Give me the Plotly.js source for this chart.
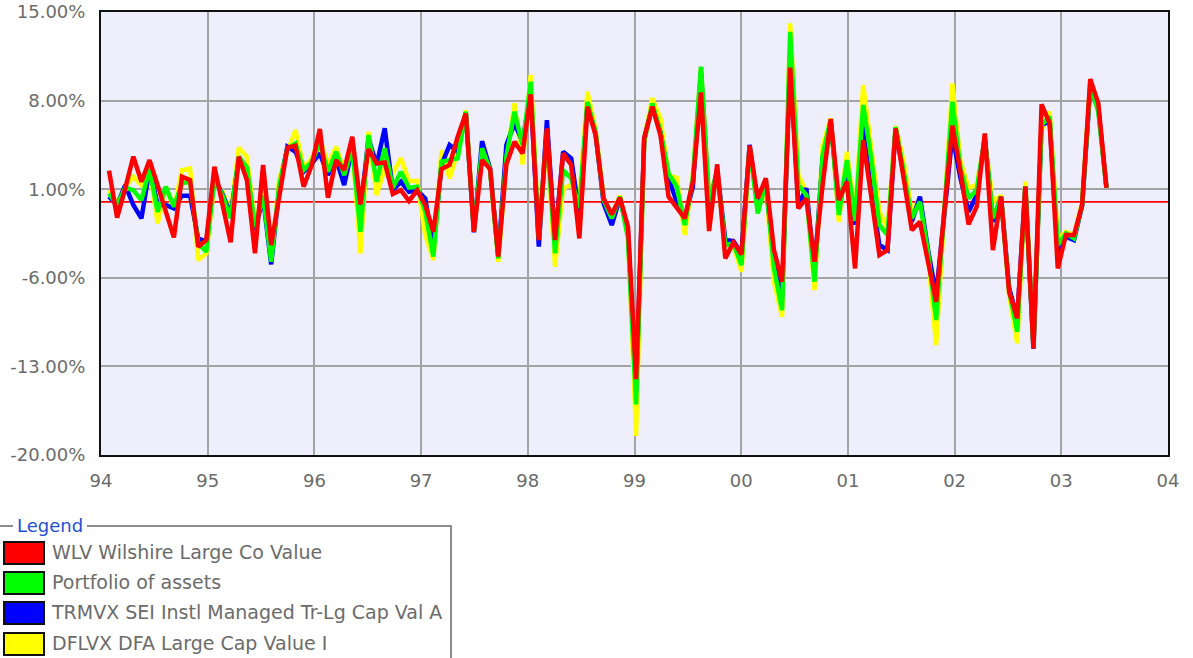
<!DOCTYPE html>
<html>
<head>
<meta charset="utf-8">
<script src="https://cdn.plot.ly/plotly-3.0.1.min.js"></script>
<style>
  html, body { margin:0; padding:0; background:#fff; }
  #wrap { position:relative; width:1193px; height:658px; overflow:hidden; }
  #chart { position:absolute; left:0; top:0; width:1193px; height:658px; }
  #legendBox { position:absolute; left:0; top:515px; width:452px; height:170px; margin:0; padding:0;
    border:2px solid #8c8c8c; border-left:none; box-sizing:border-box; font-family:"DejaVu Sans", Verdana, sans-serif; }
  #legendBox legend { color:#1d4fd6; font-size:18px; padding:0 4px; margin-left:13px; }
  .item { position:absolute; left:3px; height:24px; }
  .sw { position:absolute; left:0; top:0; width:38px; height:20px; border:2px solid #111; }
  .lbl { position:absolute; left:49px; top:0px; white-space:nowrap; color:#6b6b6b; font-size:19px; }
</style>
</head>
<body>
<div id="wrap">
  <div id="chart"></div>
  <fieldset id="legendBox"><legend>Legend</legend></fieldset>
</div>
<script>
// ---- data (monthly returns, %) ----
const startYear = 94.075;
const stepYears = 0.076;

const seriesNames = [
  "WLV Wilshire Large Co Value",
  "Portfolio of assets",
  "TRMVX SEI Instl Managed Tr-Lg Cap Val A",
  "DFLVX DFA Large Cap Value I"
];
const seriesColors = ["#ff0000", "#00ff00", "#0000ff", "#ffff00"];

const wlv = [
  2.46,-1.25,1.07,3.57,1.59,3.30,1.30,-0.70,-2.81,1.99,1.72,-3.54,-3.02,2.78,-0.25,-3.20,
  3.57,1.72,-4.07,2.91,-3.41,0.41,4.28,4.44,1.20,2.91,5.75,0.33,3.30,2.51,5.15,-0.20,
  4.17,3.04,3.12,0.62,0.93,0.07,0.91,-0.25,-2.36,2.59,2.91,5.15,6.99,-2.36,3.30,2.59,
  -4.33,2.96,4.75,3.83,8.49,-3.02,5.81,-3.02,3.83,2.91,-2.89,7.52,5.28,0.27,-0.99,0.33,
  -1.96,-14.0,5.02,7.52,5.28,0.41,-0.52,-1.30,1.59,8.65,-2.31,2.96,-4.47,-3.20,-4.15,4.44,
  0.27,1.86,-3.81,-6.31,10.60,-0.52,0.27,-4.73,1.33,6.54,0.14,1.59,-5.26,4.88,0.41,-4.20,
  -3.81,5.81,1.86,-2.23,-1.57,-4.73,-7.89,-0.78,6.02,2.38,-1.78,-0.38,5.41,-3.81,0.41,-7.10,
  -9.21,1.20,-11.58,7.70,6.20,-5.26,-2.62,-2.62,-0.25,9.70,7.78,1.12
];
const portfolio = [
  0.67,-0.25,1.12,0.93,0.14,2.59,-0.78,1.20,-0.38,1.46,1.59,-3.28,-3.94,1.86,0.50,-1.30,
  3.57,2.70,-2.00,0.50,-4.73,1.33,4.23,4.62,2.51,3.17,4.62,2.38,3.96,2.12,4.23,-2.36,
  5.28,1.59,4.23,1.12,2.38,1.12,1.20,-0.78,-4.33,3.17,3.30,3.44,7.12,-2.30,4.23,2.51,
  -4.47,3.57,7.12,4.49,9.49,-2.89,5.54,-4.07,2.51,1.86,-0.50,7.91,5.50,0.14,-1.30,0.40,
  -2.89,-16.0,4.75,7.78,5.54,2.25,1.20,-1.83,1.86,10.68,0.01,2.40,-3.41,-3.30,-5.00,4.40,
  -0.91,1.59,-5.26,-8.55,13.44,1.33,0.54,-6.31,3.70,6.50,-1.04,3.30,-1.50,7.65,3.44,-1.83,
  -2.62,5.90,2.38,-1.30,0.01,-4.00,-9.34,-0.60,7.91,2.64,0.27,0.93,5.00,-1.30,0.40,-7.00,
  -10.26,1.20,-11.50,6.07,6.73,-3.41,-2.49,-2.89,-0.25,9.23,7.12,1.12
];
const trmvx = [
  0.41,-0.25,1.33,-0.25,-1.30,2.59,-0.25,-0.25,-0.52,0.49,0.49,-2.89,-3.15,1.86,0.60,-1.00,
  3.30,2.51,-2.20,0.30,-4.94,1.07,4.36,3.96,2.38,3.04,3.83,2.12,3.44,1.33,4.23,-0.78,
  5.02,2.91,5.81,0.93,1.59,0.80,0.93,0.27,-3.67,2.91,4.49,3.96,7.07,-2.40,4.80,2.60,
  -4.33,4.49,6.20,4.75,8.57,-3.54,6.46,-3.15,3.96,3.44,-1.00,7.65,5.40,-0.12,-1.83,0.30,
  -2.36,-15.0,5.02,7.52,5.54,1.86,0.01,-1.30,1.20,10.28,-0.25,2.50,-3.02,-3.10,-4.07,4.50,
  -0.25,1.33,-4.47,-7.63,11.60,-0.25,1.07,-5.52,3.44,6.40,-0.52,2.64,-1.80,5.94,0.80,-3.41,
  -3.81,5.80,2.12,-1.57,0.41,-3.80,-7.36,-0.90,5.28,1.86,-0.78,0.54,5.10,-1.57,0.40,-6.80,
  -9.21,1.20,-11.60,6.07,6.33,-3.94,-2.75,-3.02,-0.30,8.97,7.39,1.12
];
const dflvx = [
  0.93,-0.12,1.20,1.99,1.33,2.64,-1.70,1.20,-0.52,2.51,2.64,-4.60,-4.07,1.50,0.80,-0.80,
  4.28,3.57,-1.80,0.70,-4.50,1.86,3.96,5.67,2.64,3.44,5.02,2.91,4.36,2.38,4.49,-4.07,
  5.54,0.54,2.64,2.25,3.44,1.64,1.64,-2.62,-4.60,4.09,1.86,3.96,7.25,-2.30,3.96,2.40,
  -4.73,3.17,7.78,2.96,10.02,-2.62,5.02,-5.12,1.07,1.33,0.30,8.70,5.70,0.27,-1.04,0.50,
  -2.62,-18.5,5.15,8.18,6.60,2.12,1.91,-2.62,2.12,10.55,0.27,2.30,-3.41,-3.50,-5.52,4.30,
  -0.52,1.07,-6.31,-9.07,14.10,2.12,0.80,-6.97,4.49,6.60,-1.57,3.96,-1.20,9.23,4.23,-0.78,
  -2.09,6.00,3.17,-0.91,0.27,-4.30,-11.31,-0.30,9.36,3.17,1.12,1.33,4.90,0.01,0.50,-7.40,
  -11.18,1.59,-11.40,5.67,7.12,-2.89,-2.36,-2.62,0.01,9.36,7.25,1.12
];
const yTicks = [-20, -13, -6, 1, 8, 15];
const yTickLabels = ["-20.00%", "-13.00%", "-6.00%", "1.00%", "8.00%", "15.00%"];
const xTickYears = [94, 95, 96, 97, 98, 99, 100, 101, 102, 103, 104];
const xTickLabels = ["94","95","96","97","98","99","00","01","02","03","04"];

// ---- build ----
const xs = wlv.map((_, i) => startYear + i * stepYears);
const order = [3, 2, 1, 0]; // draw yellow first, red last
const allData = [wlv, portfolio, trmvx, dflvx];
const traces = order.map(k => ({
  type: "scatter", mode: "lines", x: xs, y: allData[k], name: seriesNames[k],
  line: { color: seriesColors[k], width: 4.5, shape: "linear" },
  hoverinfo: "skip", showlegend: false
}));

const tickFont = { family: "DejaVu Sans, Verdana, sans-serif", size: 18, color: "#6b6b6b" };
const layout = {
  width: 1193, height: 658,
  margin: { l: 101, r: 25, t: 12, b: 203, pad: 0 },
  paper_bgcolor: "#ffffff",
  plot_bgcolor: "#eeeefc",
  showlegend: false,
  xaxis: {
    range: [94, 104], tickvals: xTickYears, ticktext: xTickLabels,
    showgrid: true, gridcolor: "#a3a3a3", gridwidth: 2,
    zeroline: false, showline: true, mirror: true, linecolor: "#111", linewidth: 2,
    ticks: "", tickfont: tickFont, ticklabelstandoff: 8
  },
  yaxis: {
    range: [-20, 15], tickvals: yTicks, ticktext: yTickLabels,
    showgrid: true, gridcolor: "#a3a3a3", gridwidth: 2,
    zeroline: false, showline: true, mirror: true, linecolor: "#111", linewidth: 2,
    ticks: "", tickfont: tickFont, ticklabelstandoff: 10
  },
  shapes: [{
    type: "line", xref: "paper", x0: 0, x1: 1, yref: "y", y0: 0, y1: 0,
    line: { color: "#ff0000", width: 1.8 }, layer: "below"
  }]
};

Plotly.newPlot("chart", traces, layout, { staticPlot: true, displayModeBar: false });

// legend (HTML fieldset like the original)
const box = document.getElementById("legendBox");
seriesNames.forEach((name, k) => {
  const it = document.createElement("div");
  it.className = "item";
  it.style.top = (5 + k * 30.2) + "px";
  const sw = document.createElement("div");
  sw.className = "sw"; sw.style.background = seriesColors[k];
  const lb = document.createElement("div");
  lb.className = "lbl"; lb.textContent = name;
  it.appendChild(sw); it.appendChild(lb);
  box.appendChild(it);
});
</script>
</body>
</html>
